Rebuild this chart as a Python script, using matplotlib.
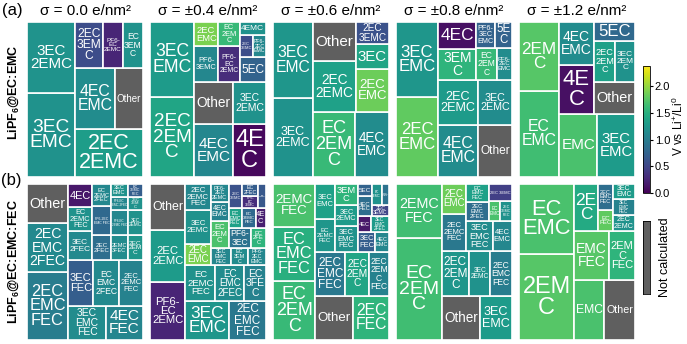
import numpy as np
import matplotlib
matplotlib.use("Agg")
import matplotlib.pyplot as plt
from matplotlib.patches import Rectangle
from matplotlib.colors import Normalize
import matplotlib.cm as cm

plt.rcParams['font.family'] = ['Liberation Sans', 'DejaVu Sans']
plt.rcParams['mathtext.fontset'] = 'custom'
plt.rcParams['mathtext.rm'] = 'Liberation Sans'
plt.rcParams['mathtext.bf'] = 'Liberation Sans:bold'
plt.rcParams['mathtext.it'] = 'Liberation Sans:italic'

nan = np.nan

# ---------------- data ----------------
titles = ["σ = 0.0 e/nm²", "σ = ±0.4 e/nm²", "σ = ±0.6 e/nm²", "σ = ±0.8 e/nm²", "σ = ±1.2 e/nm²"]
row_labels = [r"LiPF$_\mathbf{6}$@EC:EMC", r"LiPF$_\mathbf{6}$@EC:EMC:FEC"]
row_tags = ["(a)", "(b)"]
cbar_label = r"V vs Li$^{+}$/Li$^{0}$"
nc_label = "Not calculated"

# Row (a): LiPF6@EC:EMC
a0_labels = ["3EC\nEMC", "3EC\n2EMC", "2EC\n2EMC", "4EC\nEMC", "Other", "2EC\n3EM\nC", "PF6-\nEC\n2EMC", "EC\n3EM\nC"]
a0_sizes = [4032, 3408, 3264, 2440, 1708, 1288, 920, 920]
a0_volts = [1.2, 1.22, 1.32, 1.15, nan, 0.55, 0.25, 1.2]

a1_labels = ["2EC\n2EM\nC", "3EC\nEMC", "4EC\nEMC", "4E\nC", "Other", "3EC\n2EMC", "PF6-\n3EMC", "2EC\nEMC",
             "PF6-\nEC\n2EMC", "EC\n2EM\nC", "5EC", "2EC\n3EMC", "PF6-\n2EC\nEMC", "4EMC"]
a1_sizes = [3520, 3300, 2028, 1716, 1638, 1386, 828, 575, 756, 525, 640, 294, 294, 336]
a1_volts = [1.4, 1.3, 1.1, 0.05, nan, 1.2, 1.1, 1.9, 0.3, 1.6, 0.75, 0.55, 1.1, 1.2]

a2_labels = ["3EC\n2EMC", "3EC\nEMC", "EC\n2EM\nC", "4EC\nEMC", "2EC\n2EMC", "Other", "2EC\nEMC", "3EC", "2EC\n3EMC"]
a2_sizes = [3160, 3040, 2790, 2244, 2200, 1716, 1428, 850, 748]
a2_volts = [1.2, 1.25, 1.6, 1.15, 1.35, nan, 1.85, 1.4, 0.6]

a3_labels = ["2EC\nEMC", "3EC\nEMC", "4EC\nEMC", "Other", "2EC\n2EMC", "3EC\n2EMC", "3EM\nC", "4EC",
             "EC\n2EM\nC", "PF6-\n2EC\nEMC", "PF6-\n3EC\nEMC", "5E\nC"]
a3_sizes = [3360, 3150, 2080, 1768, 1760, 1496, 1170, 1040, 660, 495, 468, 442]
a3_volts = [1.8, 1.25, 1.15, nan, 1.3, 1.15, 1.55, 0.1, 1.6, 1.15, 0.75, 0.75]

a4_labels = ["EC\nEMC", "2EM\nC", "EMC", "3EC\nEMC", "4E\nC", "4EC\nEMC", "Other", "2EC\n2EM\nC", "3EC\n2EM\nC", "5EC"]
a4_sizes = [3500, 2800, 2450, 2400, 1728, 1512, 1344, 880, 800, 798]
a4_volts = [1.65, 1.75, 1.7, 1.3, 0.1, 1.15, nan, 1.35, 1.2, 0.8]

# Row (b): LiPF6@EC:EMC:FEC
b0_labels = ["2EC\nEMC\nFEC", "2EC\nEMC\n2FEC", "Other", "3EC\nEMC\nFEC", "4EC\nFEC", "3EC\nFEC", "EC\nEMC\n2FEC",
             "2EC\n2EMC\nFEC", "3EC\n2FEC", "EC\n2EMC\nFEC", "4EC", "2EC\n2FEC", "2EMC\n3FEC", "2EC\n2EM\nC",
             "PF6-2EC\nEMC FEC", "EC\n2EMC\n2FEC", "PF6-EC\n2EMC FEC", "3EC\n2EMC", "PF6-EC\nEMC 2FEC", "3EC\nEMC",
             "2EC\n3EM\nC", "EC\n3EMC\nFEC"]
b0_sizes = [2856, 2058, 1638, 1340, 1290, 1180, 1170, 1130, 720, 600, 576, 468, 442, 390,
            540, 414, 442, 390, 238, 221, 210, 195]
b0_volts = [1.0, 1.12, nan, 1.15, 1.08, 0.7, 1.12, 1.05, 1.12, 1.2, 0.15, 0.85, 1.15, 1.25,
            0.8, 1.1, 1.1, 1.2, 1.1, 1.2, 1.2, 0.7]

b1_labels = ["PF6-\nEC\n2EMC", "2EC\n2EMC", "Other", "3EC\nEMC", "2EC\nEMC\nFEC", "EC\n2EMC\nFEC", "EC\nEMC\n2FEC",
             "EC\n3FE\nC", "2EC\nEMC", "3EC\n2EMC", "2EC\n2EMC\nFEC", "3EC\nEMC\nFEC", "EC\n3EM\nC", "PF6-\n2EC\nEMC",
             "EC\n2EM\nC", "4EC\nEMC", "PF6-\n2EC\n2EMC", "PF6-\n3EC", "EC\n2FE\nC", "EC\nEMC\nFEC", "2EC\n3EMC",
             "EC\n3EMC\nFEC", "4E\nC", "PF6-\nEC\n3EMC", "EC\n2FEC", "EC\n4EMC"]
b1_sizes = [2088, 1872, 1656, 1700, 1450, 1102, 1064, 798, 550, 850, 675, 360, 306, 324,
            486, 360, 324, 432, 297, 270, 320, 288, 220, 200, 198, 180]
b1_volts = [0.25, 1.3, nan, 1.25, 0.95, 1.2, 1.15, 1.05, 1.9, 1.2, 1.1, 1.1, 1.15, 1.1,
            1.7, 1.05, 1.1, 0.9, 1.55, 1.35, 0.6, 0.8, 0.2, 0.3, 0.7, 0.65]

b2_labels = ["EC\n2EM\nC", "EC\nEMC\nFEC", "2EMC\nFEC", "Other", "2EC\nFEC", "2EC\nEMC\nFEC", "2EC\n2EM\nC",
             "2EC\n2EM\nC\nFEC", "EC\n2EMC\nFEC", "3EC\nEMC", "3EC\nEMC\nFEC", "3EC\n2EMC", "3EM\nC", "3EC\nFEC",
             "4EC\nEMC", "4EC", "3EC\nEMC\n2FEC", "4EC\nFEC", "5EC", "2EC\n3EMC", "EC\n3EMC", "2EC\n2EMC\n2FEC"]
b2_sizes = [2478, 2268, 1806, 1672, 1584, 1290, 1032, 860, 646, 665, 598, 506, 483, 340,
            280, 195, 285, 273, 169, 200, 200, 153]
b2_volts = [1.6, 1.5, 1.7, nan, 1.55, 0.95, 1.4, 1.05, 1.25, 1.35, 1.2, 1.3, 1.55, 0.7,
            1.1, 0.15, 1.3, 0.85, 0.75, 0.5, 1.2, 0.9]

b3_labels = ["EC\n2EM\nC", "2EMC\nFEC", "Other", "3EC\nEMC", "2EC\n2EM\nC", "3EC\n2EMC", "2EC\nEMC\nFEC",
             "2EC\n2EMC\nFEC", "2EC\nEMC", "3EC\nEMC\nFEC", "4EC\nEMC", "2EC\nEMC\n2FEC", "EC\nEMC\nFEC",
             "EC\nEMC", "2EC\n3EMC\nFEC", "2EC 3EMC"]
b3_sizes = [4590, 2430, 1677, 1376, 1232, 924, 968, 912, 720, 783, 580, 418, 396, 228, 228, 400]
b3_volts = [1.65, 1.65, nan, 1.3, 1.25, 1.2, 1.0, 0.95, 1.85, 1.15, 1.1, 0.85, 1.35, 1.7, 1.2, 0.45]

b4_labels = ["2EM\nC", "EC\nEMC", "EMC", "Other", "EMC\nFEC", "2EM\nC\nFEC", "2E\nC", "EC\nFEC",
             "2EC\nEMC\nFEC", "2EC\n2EMC", "3EC\nEMC\nFEC", "3EC\nEMC"]
b4_sizes = [4730, 3850, 1829, 1829, 1715, 1274, 1152, 308, 364, 368, 345, 345]
b4_volts = [1.75, 1.7, 1.7, nan, 1.75, 1.55, 1.45, 1.8, 0.85, 1.2, 1.05, 1.3]

panels = [
    [(a0_labels, a0_sizes, a0_volts), (a1_labels, a1_sizes, a1_volts), (a2_labels, a2_sizes, a2_volts),
     (a3_labels, a3_sizes, a3_volts), (a4_labels, a4_sizes, a4_volts)],
    [(b0_labels, b0_sizes, b0_volts), (b1_labels, b1_sizes, b1_volts), (b2_labels, b2_sizes, b2_volts),
     (b3_labels, b3_sizes, b3_volts), (b4_labels, b4_sizes, b4_volts)],
]

vmin, vmax = 0.0, 2.38
cbar_ticks = [0.0, 0.5, 1.0, 1.5, 2.0]
gray = "#5f5f5f"


# ---------------- squarified treemap layout ----------------
def _layoutrow(sizes, x, y, dx, dy):
    width = sum(sizes) / dy
    out = []
    for s in sizes:
        out.append((x, y, width, s / width))
        y += s / width
    return out


def _layoutcol(sizes, x, y, dx, dy):
    height = sum(sizes) / dx
    out = []
    for s in sizes:
        out.append((x, y, s / height, height))
        x += s / height
    return out


def _layout(sizes, x, y, dx, dy):
    return _layoutrow(sizes, x, y, dx, dy) if dx >= dy else _layoutcol(sizes, x, y, dx, dy)


def _leftover(sizes, x, y, dx, dy):
    if dx >= dy:
        w = sum(sizes) / dy
        return x + w, y, dx - w, dy
    h = sum(sizes) / dx
    return x, y + h, dx, dy - h


def _worst(sizes, x, y, dx, dy):
    return max(max(r[2] / r[3], r[3] / r[2]) for r in _layout(sizes, x, y, dx, dy))


def squarify(sizes, x, y, dx, dy):
    if len(sizes) == 0:
        return []
    if len(sizes) == 1:
        return _layout(sizes, x, y, dx, dy)
    i = 1
    while i < len(sizes) and _worst(sizes[:i], x, y, dx, dy) >= _worst(sizes[:i + 1], x, y, dx, dy):
        i += 1
    cur, rem = sizes[:i], sizes[i:]
    lx, ly, ldx, ldy = _leftover(cur, x, y, dx, dy)
    return _layout(cur, x, y, dx, dy) + squarify(rem, lx, ly, ldx, ldy)


def treemap(sizes, W=100.0, H=100.0):
    tot = float(sum(sizes))
    normed = [s * W * H / tot for s in sizes]
    return squarify(normed, 0.0, 0.0, W, H)


# ---------------- figure ----------------
FW, FH = 687, 344
fig = plt.figure(figsize=(FW / 100, FH / 100), dpi=100)
renderer = fig.canvas.get_renderer()

cmap = plt.get_cmap("viridis")
norm = Normalize(vmin=vmin, vmax=vmax)

col_left = [27, 150, 273, 396, 519]
pw = 116
row_box = [(22, 177), (184, 340)]

for r in range(2):
    top, bot = row_box[r]
    for c in range(5):
        labels, sizes, volts = panels[r][c]
        ax = fig.add_axes([col_left[c] / FW, 1 - bot / FH, pw / FW, (bot - top) / FH])
        ax.set_xlim(0, 100)
        ax.set_ylim(0, 100)
        ax.axis("off")
        rects = treemap(sizes)
        sx = pw / 100.0
        sy = (bot - top) / 100.0
        for (x, y, dx, dy), lab, v in zip(rects, labels, volts):
            fc = gray if np.isnan(v) else cmap(norm(v))
            ax.add_patch(Rectangle((x, y), dx, dy, facecolor=fc, edgecolor="white", linewidth=1.2))
            t = ax.text(x + dx / 2, y + dy / 2, lab, ha="center", va="center", color="white",
                        fontsize=10, linespacing=0.92)
            bb = t.get_window_extent(renderer=renderer)
            wpx, hpx = dx * sx, dy * sy
            f = 10 * min(0.88 * wpx / bb.width, 0.88 * hpx / bb.height)
            t.set_fontsize(max(f, 1.0))
        if r == 0:
            fig.text((col_left[c] + pw / 2) / FW, 1 - 11 / FH, titles[c], ha="center", va="center", fontsize=11)

# row tags and labels
fig.text(12 / FW, 1 - 11 / FH, row_tags[0], ha="center", va="center", fontsize=12)
fig.text(11 / FW, 1 - 180 / FH, row_tags[1], ha="center", va="center", fontsize=12)
fig.text(14 / FW, 1 - 92 / FH, row_labels[0], ha="center", va="center", rotation=90,
         fontsize=9, fontweight="bold")
fig.text(14 / FW, 1 - 262 / FH, row_labels[1], ha="center", va="center", rotation=90,
         fontsize=9, fontweight="bold")

# colorbar
cax = fig.add_axes([643 / FW, 1 - 193 / FH, 7 / FW, 127 / FH])
sm = cm.ScalarMappable(norm=norm, cmap=cmap)
cb = fig.colorbar(sm, cax=cax, ticks=cbar_ticks)
cb.ax.set_yticklabels([f"{t:.1f}" for t in cbar_ticks])
cb.ax.tick_params(labelsize=8, length=2.5, width=0.8, pad=1)
cb.outline.set_linewidth(0.6)
fig.text(678.5 / FW, 1 - 126 / FH, cbar_label, ha="center", va="center", rotation=90, fontsize=8.5)

# not calculated patch
nax = fig.add_axes([643 / FW, 1 - 294 / FH, 7 / FW, 73 / FH])
nax.set_facecolor(gray)
nax.set_xticks([])
nax.set_yticks([])
for s in nax.spines.values():
    s.set_linewidth(0.6)
fig.text(665 / FW, 1 - 257 / FH, nc_label, ha="center", va="center", rotation=90, fontsize=9)

fig.savefig("out.png", dpi=100)
